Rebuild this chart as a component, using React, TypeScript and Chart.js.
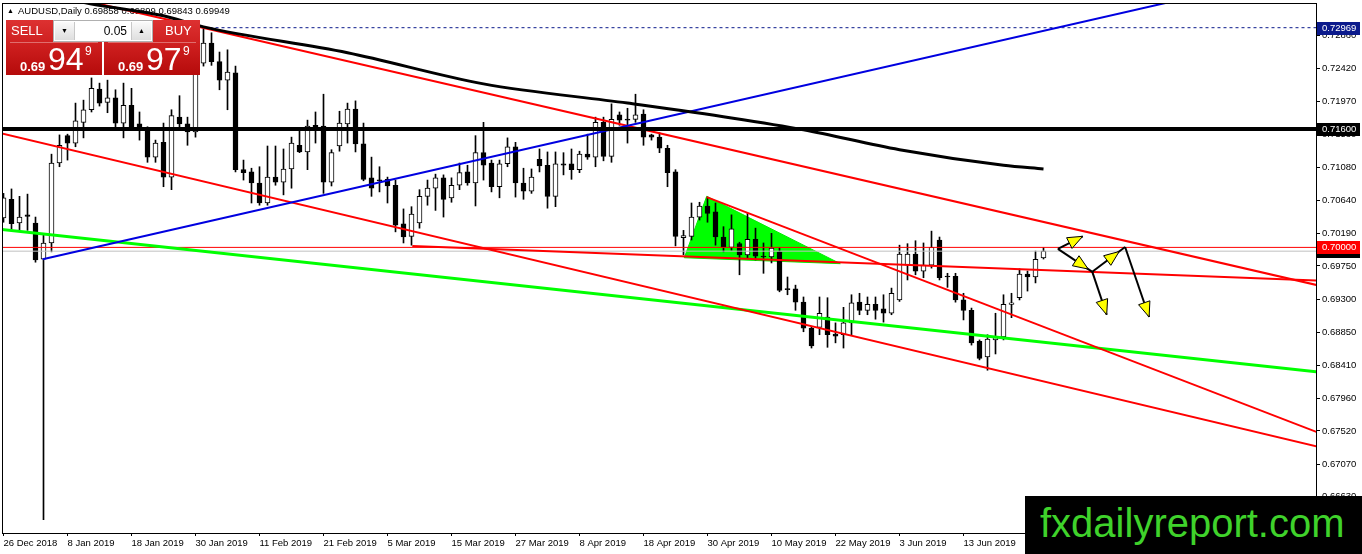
import React, { useEffect, useRef } from "react";
import { Chart, registerables } from "chart.js";

Chart.register(...registerables);

// ---- data (AUDUSD daily) ----
const headerText = "AUDUSD,Daily 0.69858 0.69899 0.69843 0.69949";

const tickLabels = [
  "26 Dec 2018", "8 Jan 2019", "18 Jan 2019", "30 Jan 2019", "11 Feb 2019", "21 Feb 2019",
  "5 Mar 2019", "15 Mar 2019", "27 Mar 2019", "8 Apr 2019", "18 Apr 2019", "30 Apr 2019",
  "10 May 2019", "22 May 2019", "3 Jun 2019", "13 Jun 2019", "25 Jun 2019",
];

const priceTicks = [
  0.7286, 0.7242, 0.7197, 0.7153, 0.7108, 0.7064, 0.7019, 0.6975, 0.693, 0.6885, 0.6841,
  0.6796, 0.6752, 0.6707, 0.6663,
];

const opens = [
  0.7040, 0.7065, 0.7033, 0.7044, 0.7033, 0.6984, 0.7006, 0.7114, 0.7151, 0.7141,
  0.7169, 0.7186, 0.7214, 0.7196, 0.7202, 0.7168, 0.7192, 0.7167, 0.7161, 0.7122,
  0.7142, 0.7095, 0.7176, 0.7167, 0.7156, 0.7249, 0.7276, 0.7251, 0.7226, 0.7236,
  0.7105, 0.7102, 0.7087, 0.7060, 0.7095, 0.7088, 0.7106, 0.7138, 0.7129, 0.7165,
  0.7164, 0.7088, 0.7137, 0.7167, 0.7187, 0.7140, 0.7094, 0.7091, 0.7092, 0.7084,
  0.7032, 0.7015, 0.7033, 0.7069, 0.7080, 0.7094, 0.7067, 0.7084, 0.7102, 0.7087,
  0.7128, 0.7114, 0.7082, 0.7113, 0.7136, 0.7087, 0.7076, 0.7119, 0.7111, 0.7069,
  0.7113, 0.7113, 0.7105, 0.7126, 0.7122, 0.7169, 0.7123, 0.7179, 0.7173, 0.7173,
  0.7180, 0.7152, 0.7149, 0.7134, 0.7102, 0.7013, 0.7015, 0.7041, 0.7056, 0.7048,
  0.7014, 0.7000, 0.7005, 0.6990, 0.7011, 0.6988, 0.6987, 0.6994, 0.6944, 0.6944,
  0.6926, 0.6891, 0.6892, 0.6906, 0.6883, 0.6882, 0.6898, 0.6926, 0.6915, 0.6923,
  0.6917, 0.6911, 0.6929, 0.6976, 0.6991, 0.6968, 0.6976, 0.7010, 0.6961, 0.6961,
  0.6929, 0.6915, 0.6873, 0.6852, 0.6875, 0.6879, 0.6923, 0.6932, 0.6964, 0.6960,
  0.69858,
];

const highs = [
  0.7073, 0.7079, 0.7069, 0.7072, 0.7041, 0.7019, 0.7126, 0.7152, 0.7153, 0.7195,
  0.7199, 0.7229, 0.7222, 0.7226, 0.7213, 0.7222, 0.7215, 0.7183, 0.7163, 0.7145,
  0.7168, 0.7186, 0.7205, 0.7176, 0.7260, 0.72969, 0.7290, 0.7264, 0.7267, 0.7245,
  0.7118, 0.7107, 0.7109, 0.7137, 0.7137, 0.7133, 0.7149, 0.7159, 0.7172, 0.7183,
  0.7207, 0.7132, 0.7184, 0.7195, 0.7198, 0.7168, 0.7122, 0.7109, 0.7095, 0.7091,
  0.7052, 0.7055, 0.7078, 0.7091, 0.7099, 0.7098, 0.7094, 0.7114, 0.7111, 0.7151,
  0.7169, 0.7118, 0.7118, 0.7148, 0.7142, 0.7107, 0.7106, 0.7133, 0.7129, 0.7129,
  0.7128, 0.7133, 0.7130, 0.7153, 0.7176, 0.7176, 0.7194, 0.7183, 0.7188, 0.7207,
  0.7186, 0.7153, 0.7155, 0.7138, 0.7105, 0.7023, 0.7060, 0.7061, 0.7068, 0.7060,
  0.7028, 0.7044, 0.7007, 0.7046, 0.7026, 0.7006, 0.7019, 0.7000, 0.6960, 0.6949,
  0.6933, 0.6892, 0.6933, 0.6932, 0.6898, 0.6919, 0.6936, 0.6938, 0.6933, 0.6933,
  0.6936, 0.6945, 0.7003, 0.7005, 0.7009, 0.7006, 0.7022, 0.7014, 0.6965, 0.6965,
  0.6938, 0.6918, 0.6875, 0.6882, 0.6911, 0.6936, 0.6938, 0.6971, 0.6968, 0.6995,
  0.69999,
];

const lows = [
  0.7034, 0.7023, 0.7023, 0.7023, 0.6980, 0.6632, 0.6994, 0.7109, 0.7118, 0.7136,
  0.7148, 0.7183, 0.7191, 0.7182, 0.7163, 0.7148, 0.7159, 0.7145, 0.7115, 0.7115,
  0.7082, 0.7078, 0.7163, 0.7138, 0.7149, 0.7245, 0.7246, 0.7213, 0.7186, 0.7102,
  0.7091, 0.7060, 0.7057, 0.7057, 0.7084, 0.7071, 0.7080, 0.7128, 0.7105, 0.7141,
  0.7073, 0.7083, 0.7130, 0.7141, 0.7129, 0.7090, 0.7069, 0.7075, 0.7060, 0.7021,
  0.7006, 0.7003, 0.7026, 0.7057, 0.7050, 0.7041, 0.7061, 0.7078, 0.7084, 0.7056,
  0.7091, 0.7075, 0.7067, 0.7109, 0.7068, 0.7065, 0.7073, 0.7102, 0.7053, 0.7055,
  0.7098, 0.7092, 0.7101, 0.7119, 0.7109, 0.7117, 0.7115, 0.7165, 0.7141, 0.7169,
  0.7138, 0.7145, 0.7128, 0.7082, 0.7002, 0.6990, 0.7010, 0.7037, 0.7034, 0.7003,
  0.6994, 0.6996, 0.6963, 0.6986, 0.6983, 0.6965, 0.6979, 0.6940, 0.6936, 0.6915,
  0.6886, 0.6864, 0.6882, 0.6865, 0.6871, 0.6864, 0.6882, 0.6909, 0.6909, 0.6903,
  0.6899, 0.6909, 0.6927, 0.6956, 0.6963, 0.6959, 0.6972, 0.6956, 0.6946, 0.6926,
  0.6902, 0.6868, 0.6848, 0.6834, 0.6856, 0.6875, 0.6905, 0.6929, 0.6941, 0.6952,
  0.69843,
];

const closes = [
  0.7067, 0.7032, 0.7041, 0.7042, 0.6983, 0.7006, 0.7114, 0.7138, 0.7141, 0.7171,
  0.7186, 0.7215, 0.7195, 0.7202, 0.7168, 0.7192, 0.7161, 0.7161, 0.7122, 0.7141,
  0.7095, 0.7178, 0.7167, 0.7156, 0.7246, 0.7276, 0.7251, 0.7226, 0.7237, 0.7105,
  0.7101, 0.7087, 0.7060, 0.7095, 0.7088, 0.7106, 0.7141, 0.7129, 0.7164, 0.7160,
  0.7088, 0.7128, 0.7168, 0.7187, 0.7140, 0.7092, 0.7080, 0.7090, 0.7083, 0.7030,
  0.7014, 0.7045, 0.7069, 0.7080, 0.7094, 0.7065, 0.7084, 0.7101, 0.7087, 0.7128,
  0.7111, 0.7082, 0.7113, 0.7136, 0.7087, 0.7076, 0.7095, 0.7110, 0.7069, 0.7113,
  0.7111, 0.7105, 0.7126, 0.7122, 0.7169, 0.7123, 0.7173, 0.7172, 0.7172, 0.7179,
  0.7149, 0.7149, 0.7134, 0.7101, 0.7015, 0.7016, 0.7041, 0.7056, 0.7046, 0.7014,
  0.7000, 0.7025, 0.6990, 0.7011, 0.6988, 0.6987, 0.6999, 0.6942, 0.6943, 0.6926,
  0.6891, 0.6867, 0.6911, 0.6882, 0.6880, 0.6898, 0.6925, 0.6915, 0.6923, 0.6915,
  0.6911, 0.6938, 0.6991, 0.6991, 0.6968, 0.6976, 0.7000, 0.6959, 0.6960, 0.6929,
  0.6915, 0.6871, 0.6850, 0.6876, 0.6878, 0.6923, 0.6925, 0.6964, 0.6960, 0.6984,
  0.69949,
];

// moving average, read at a few bars: [bar, price]
const movingAverage = [
  [0, 0.7353], [11, 0.7329], [20, 0.7313], [25, 0.7298], [43, 0.7263], [60, 0.7221],
  [78, 0.7195], [91, 0.7175], [100, 0.7159], [112, 0.7132], [125, 0.7111], [130, 0.7106],
];

// drawn trend lines: [bar, price] end points
const blueLine = [[4.9, 0.6984], [165, 0.7379]];
const redUpper = [[0, 0.7359], [165, 0.6947]];
const redLower = [[-1, 0.7156], [165, 0.6729]];
const redSteep = [[87.9, 0.7068], [165, 0.6747]];
const redFlat = [[51.1, 0.7002], [165, 0.6955]];
const greenLine = [[-1, 0.7025], [165, 0.6831]];
const triangle = [[85.1, 0.6986], [87.9, 0.7069], [104.6, 0.6978], [85.1, 0.6986]];

const resistance = 0.716;
const roundLevel = 0.7;
const bidPrice = 0.69949;
const highLevel = 0.72969;
const highLevelFrom = 25;

// scenario arrows: from [bar, price] -> to [bar, price]
const arrowFrom = [[131.8, 0.6998], [131.8, 0.6998], [136.1, 0.6967], [136.1, 0.6967], [140.2, 0.70005]];
const arrowTo = [[134.9, 0.7015], [136.1, 0.6967], [140.2, 0.70005], [137.9, 0.6909], [143.2, 0.6906]];
const arrowHeadAt = [1, 0.88, 0.82, 1, 1];

const FONT = '"Liberation Sans", Arial, sans-serif';

const mtPlugin = {
  id: "mtOverlay",
  beforeDatasetsDraw(chart: any) {
    const c = chart.ctx;
    c.save();
    c.fillStyle = "#000";
    c.textBaseline = "middle";
    c.font = `7px ${FONT}`;
    c.fillText("\u25B2", 7, 11);
    c.font = `9.5px ${FONT}`;
    c.fillText(headerText, 18, 11);
    c.restore();
  },
  afterDatasetsDraw(chart: any) {
    const c = chart.ctx;
    const xs = chart.scales.x;
    const ys = chart.scales.y;
    c.save();
    arrowFrom.forEach((f, k) => {
      const t = arrowTo[k];
      const x1 = xs.getPixelForValue(f[0]);
      const y1 = ys.getPixelForValue(f[1]);
      const x2 = xs.getPixelForValue(t[0]);
      const y2 = ys.getPixelForValue(t[1]);
      c.strokeStyle = "#000";
      c.lineWidth = 2;
      c.beginPath();
      c.moveTo(x1, y1);
      c.lineTo(x2, y2);
      c.stroke();
      const h = arrowHeadAt[k];
      const tx = x1 + (x2 - x1) * h;
      const ty = y1 + (y2 - y1) * h;
      const len = Math.hypot(x2 - x1, y2 - y1) || 1;
      const ux = (x2 - x1) / len;
      const uy = (y2 - y1) / len;
      const bx = tx - ux * 15;
      const by = ty - uy * 15;
      c.beginPath();
      c.moveTo(tx, ty);
      c.lineTo(bx - uy * 6, by + ux * 6);
      c.lineTo(bx + uy * 6, by - ux * 6);
      c.closePath();
      c.fillStyle = "#ffff00";
      c.fill();
      c.lineWidth = 1;
      c.stroke();
    });
    c.restore();
  },
  afterDraw(chart: any) {
    const c = chart.ctx;
    const { left, top, right, bottom } = chart.chartArea;
    const ys = chart.scales.y;
    c.save();
    c.strokeStyle = "#000";
    c.lineWidth = 1;
    c.strokeRect(left + 0.5, top + 0.5, right - left, bottom - top);
    const tags: [number, string][] = [
      [highLevel, "#0b1a8c"],
      [resistance, "#000000"],
      [bidPrice, "#000000"],
      [roundLevel, "#ff0000"],
    ];
    c.font = `9.5px ${FONT}`;
    c.textBaseline = "middle";
    tags.forEach(([v, bg]) => {
      const y = Math.round(ys.getPixelForValue(v));
      c.fillStyle = bg;
      c.fillRect(right + 1, y - 6, 43, 13);
      c.fillStyle = "#fff";
      c.fillText(v.toFixed(5), right + 6, y + 0.5);
    });
    c.restore();
  },
};

const line = (pts: number[][], color: string, width: number, order: number, extra: any = {}) => ({
  type: "line",
  data: pts.map(([x, y]) => ({ x, y })),
  borderColor: color,
  borderWidth: width,
  pointRadius: 0,
  fill: false,
  tension: 0,
  order,
  ...extra,
});

const CandleChart = () => {
  const canvasRef = useRef<HTMLCanvasElement | null>(null);

  useEffect(() => {
    const ctx = canvasRef.current?.getContext("2d");
    if (!ctx) return;
    const bars = opens.map((_, i) => i);
    const chart = new Chart(ctx, {
      type: "bar",
      data: {
        datasets: [
          line(triangle, "#00ee00", 1, 30, { fill: "shape", backgroundColor: "#00ff00" }),
          {
            type: "bar",
            data: bars.map((i) => ({ x: i, y: [lows[i], highs[i]] })),
            backgroundColor: "#000",
            barThickness: 1,
            grouped: false,
            order: 25,
          },
          {
            type: "bar",
            data: bars.map((i) => ({ x: i, y: [opens[i], closes[i]] })),
            backgroundColor: bars.map((i) => (closes[i] >= opens[i] ? "#ffffff" : "#000000")),
            borderColor: "#000",
            borderWidth: 1,
            borderSkipped: false,
            barThickness: 5,
            minBarLength: 1,
            grouped: false,
            order: 24,
          },
          line([[-1, bidPrice], [165, bidPrice]], "#c0c0c0", 1, 12),
          line([[-1, roundLevel], [165, roundLevel]], "#ff0000", 1, 11),
          line([[highLevelFrom, highLevel], [165, highLevel]], "#0b1a8c", 1, 10, { borderDash: [3, 3] }),
          line(greenLine, "#00ff00", 3, 9),
          line(redFlat, "#ff0000", 2, 8),
          line(redLower, "#ff0000", 2, 7),
          line(redSteep, "#ff0000", 2, 6),
          line(redUpper, "#ff0000", 2, 5),
          line(blueLine, "#0000e0", 2, 4),
          line([[-1, resistance], [165, resistance]], "#000000", 4, 3),
          line(movingAverage, "#000000", 3, 2, { cubicInterpolationMode: "monotone" }),
        ] as any,
      },
      options: {
        responsive: false,
        animation: false,
        devicePixelRatio: 1,
        events: [],
        layout: { padding: { left: 2, top: 3, right: 0, bottom: 0 } },
        plugins: { legend: { display: false }, tooltip: { enabled: false } },
        scales: {
          x: {
            type: "linear",
            min: -0.1875,
            max: 164.0625,
            offset: false,
            grid: { offset: false, drawOnChartArea: false, drawTicks: true, tickLength: 3, color: "#000" },
            border: { display: false },
            ticks: {
              autoSkip: false,
              maxRotation: 0,
              align: "start",
              padding: 2,
              color: "#000",
              font: { family: FONT, size: 9.5 },
              callback: (v: any) => tickLabels[Math.round(Number(v) / 8)] ?? "",
            },
            afterBuildTicks: (s: any) => {
              s.ticks = tickLabels.map((_, k) => ({ value: k * 8 }));
            },
            afterFit: (s: any) => {
              s.height = 21;
              s.paddingLeft = 0;
              s.paddingRight = 0;
            },
          },
          y: {
            type: "linear",
            position: "right",
            min: 0.661405,
            max: 0.733027,
            beginAtZero: false,
            grid: { drawOnChartArea: false, drawTicks: true, tickLength: 4, color: "#000" },
            border: { display: false },
            ticks: {
              padding: 2,
              color: "#000",
              font: { family: FONT, size: 9.5 },
              callback: (v: any) => Number(v).toFixed(5),
            },
            afterBuildTicks: (s: any) => {
              s.ticks = priceTicks.map((v) => ({ value: v }));
            },
            afterFit: (s: any) => {
              s.width = 46;
              s.paddingTop = 0;
              s.paddingBottom = 0;
            },
          },
        },
      } as any,
      plugins: [mtPlugin],
    });
    return () => {
      chart.destroy();
    };
  }, []);

  return <canvas ref={canvasRef} width={1362} height={554} style={{ display: "block", width: 1362, height: 554 }} />;
};

const redFill = "linear-gradient(180deg, #dd3131 0%, #cc1d1d 50%, #b50b0b 100%)";
const btnFill = "linear-gradient(180deg, #fafafa 0%, #dedede 100%)";

const PriceBox = ({ left, label, labelLeft, big }: { left: number; label: string; labelLeft: number; big: string }) => (
  <div style={{ position: "absolute", left, top: 20, width: 96, height: 55, background: redFill, color: "#fff", fontFamily: FONT }}>
    <div style={{ position: "absolute", left: labelLeft, top: 4, fontSize: 13, lineHeight: "14px" }}>{label}</div>
    <div style={{ position: "absolute", left: 4, top: 22, width: 88, height: 1, background: "rgba(255,255,255,0.35)" }} />
    <span style={{ position: "absolute", left: 14, top: 40, fontSize: 13, fontWeight: 700, lineHeight: 1 }}>0.69</span>
    <span style={{ position: "absolute", left: 42, top: 23, fontSize: 32, lineHeight: 1 }}>{big}</span>
    <span style={{ position: "absolute", left: 79, top: 25, fontSize: 12, lineHeight: 1 }}>9</span>
  </div>
);

const App = () => (
  <div style={{ position: "fixed", left: 0, top: 0, width: 1362, height: 554, background: "#fff", overflow: "hidden" }}>
    <CandleChart />
    <PriceBox left={6} label="SELL" labelLeft={5} big="94" />
    <PriceBox left={104} label="BUY" labelLeft={61} big="97" />
    <div
      style={{
        position: "absolute", left: 53, top: 20, width: 100, height: 22, background: "#fff",
        border: "1px solid #b0b0b0", boxSizing: "border-box", fontFamily: FONT,
      }}
    >
      <div style={{ position: "absolute", left: 1, top: 1, width: 19, height: 18, background: btnFill, borderRight: "1px solid #c8c8c8", fontSize: 7, textAlign: "center", lineHeight: "18px" }}>
        {"\u25BC"}
      </div>
      <div style={{ position: "absolute", right: 25, top: 0, fontSize: 12, lineHeight: "20px", color: "#000" }}>0.05</div>
      <div style={{ position: "absolute", right: 1, top: 1, width: 19, height: 18, background: btnFill, borderLeft: "1px solid #c8c8c8", fontSize: 7, textAlign: "center", lineHeight: "18px" }}>
        {"\u25B2"}
      </div>
    </div>
    <div style={{ position: "absolute", left: 1025, top: 496, width: 337, height: 58, background: "#000" }}>
      <div style={{ position: "absolute", left: 15, top: 7, fontFamily: FONT, fontSize: 40, lineHeight: 1, color: "#3fd22b", whiteSpace: "nowrap" }}>
        fxdailyreport.com
      </div>
    </div>
  </div>
);

export default App;
